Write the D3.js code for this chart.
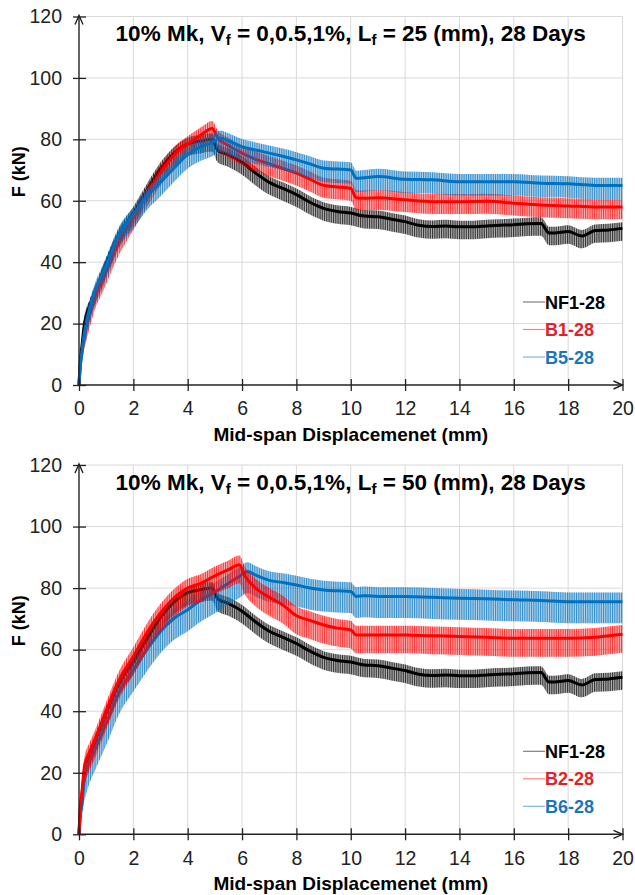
<!DOCTYPE html>
<html>
<head>
<meta charset="utf-8">
<script src="https://cdn.jsdelivr.net/npm/d3@7"></script>
<style>
  body { margin: 0; background: #fff; }
  svg { display: block; font-family: "Liberation Sans", Arial, sans-serif; }
</style>
</head>
<body>
<svg id="chart"></svg>
<script>
// ---- data (x = mid-span displacement mm, F = kN) ----
const xTicks = [0, 2, 4, 6, 8, 10, 12, 14, 16, 18, 20];
const yTicks = [0, 20, 40, 60, 80, 100, 120];

// NF1-28 (same specimen in both panels)
const nf1X = [0, 0.05, 0.1, 0.2, 0.4, 0.6, 0.8, 1.0, 1.5, 2.0, 2.5, 3.0, 3.5, 4.0, 4.5, 4.9, 5.1, 5.5, 6, 6.5, 7, 7.5, 8, 8.5, 9, 9.5, 10, 10.5, 11, 11.5, 12, 12.5, 13, 13.5, 14, 14.5, 15, 15.5, 16, 16.5, 17, 17.3, 17.5, 18, 18.5, 19, 19.5, 20];
const nf1F = [0, 8, 12, 20, 26, 30.5, 35, 39.5, 49.5, 56, 63.5, 70.5, 75.5, 78.5, 79.5, 80, 76.5, 75, 72.5, 69, 66, 64, 62, 59.5, 57.5, 56.5, 56, 55, 54.8, 54, 53.2, 52, 51.6, 51.8, 51.5, 51.5, 51.8, 52, 52.2, 52.5, 52.6, 49.5, 49.5, 50, 48.5, 50.3, 50.5, 51];

// B1-28 (Lf = 25)
const b1X = [0, 0.05, 0.1, 0.2, 0.4, 0.6, 0.8, 1.0, 1.5, 2.0, 2.5, 3.0, 3.5, 4.0, 4.5, 4.9, 5.1, 5.5, 6, 6.5, 7, 7.5, 8, 8.5, 9, 9.5, 10, 10.2, 10.5, 11, 12, 13, 14, 15, 16, 17, 18, 19, 20];
const b1F = [0, 7, 10, 16, 23, 29, 33, 37, 47, 54.5, 62, 69, 75, 78.5, 81.5, 83.5, 80.5, 78, 75.5, 73.5, 72, 70.5, 69, 67, 65, 64.5, 64, 61, 60.8, 61, 60.3, 59.7, 59.7, 59.8, 59.2, 58.6, 58.3, 58, 58];

// B5-28 (Lf = 25)
const b5X = [0, 0.05, 0.1, 0.2, 0.4, 0.6, 0.8, 1.0, 1.5, 2.0, 2.5, 3.0, 3.5, 4.0, 4.5, 4.9, 5.2, 5.5, 6, 6.5, 7, 7.5, 8, 8.5, 9, 9.5, 10, 10.2, 10.5, 11, 12, 13, 14, 15, 16, 17, 18, 19, 20];
const b5F = [0, 6, 10, 17, 25, 31, 35, 39, 49.5, 55.5, 61.5, 66, 70.7, 75, 77.6, 79, 80.4, 79.5, 77.6, 76.5, 75.5, 74.5, 73.3, 72, 70.6, 70.3, 70, 67.3, 67.5, 67.9, 67, 66.8, 66.2, 66.2, 66.2, 65.7, 65.5, 65, 65];

// B2-28 (Lf = 50)
const b2X = [0, 0.05, 0.1, 0.2, 0.4, 0.6, 0.8, 1.0, 1.5, 2.0, 2.5, 3.0, 3.5, 4.0, 4.5, 5.0, 5.5, 5.9, 6.1, 6.5, 7, 7.5, 8, 8.5, 9, 9.5, 10, 10.2, 10.5, 11, 12, 13, 14, 15, 16, 17, 18, 19, 19.5, 20];
const b2F = [0, 9, 13, 22, 27, 31, 35.5, 40, 50.5, 57.8, 65.5, 71.9, 76.7, 80, 81.6, 84, 86, 87.6, 84, 80, 77, 74.5, 71, 69.5, 68, 67, 66.4, 64.8, 64.8, 64.8, 64.8, 64.5, 64.3, 64, 63.7, 63.7, 63.7, 64, 64.5, 65];

// B6-28 (Lf = 50)
const b6X = [0, 0.05, 0.1, 0.2, 0.4, 0.6, 0.8, 1.0, 1.5, 2.0, 2.5, 3.0, 3.5, 4.0, 4.5, 5.0, 5.5, 5.9, 6.2, 6.5, 7, 7.5, 8, 8.5, 9, 9.5, 10, 10.2, 10.5, 11, 12, 13, 14, 15, 16, 17, 18, 19, 20];
const b6F = [0, 6, 9, 18, 24, 28, 32, 36, 46.5, 53.4, 60, 65.9, 70.2, 73, 76.2, 78.8, 81.6, 83.8, 85.4, 84.2, 82.5, 81.8, 81, 80, 79.4, 79.1, 78.9, 77.3, 77.5, 77.3, 77.3, 77, 76.7, 76.5, 76.2, 76, 75.6, 75.6, 75.6];

// scatter band of the noisy signal (kN above / below the dense core)
const bandUp   = { nf1: 2, b1: 2.5, b5: 2.5, b2: 3, b6: 3 };
const bandDown = { nf1: 4, b1: 4, b5: 4.5, b2: 6, b6: 7 };

const black = "#000000", red = "#ff0000", blue = "#0070c0";

const W = 635, H = 895;
const svg = d3.select("#chart").attr("width", W).attr("height", H);

const zip = (xs, fs) => xs.map((v, i) => ({ x: v, f: fs[i] }));

const panels = [
  { top: 16.5, bottom: 385, lf: "25",
    series: [
      { key: "nf1", name: "NF1-28", color: black, text: "#000", data: zip(nf1X, nf1F) },
      { key: "b1", name: "B1-28", color: red, text: "#e3202a", data: zip(b1X, b1F) },
      { key: "b5", name: "B5-28", color: blue, text: "#1b75bb", data: zip(b5X, b5F) }
    ],
    order: ["nf1", "b1", "b5"] },
  { top: 465, bottom: 834.3, lf: "50",
    series: [
      { key: "nf1", name: "NF1-28", color: black, text: "#000", data: zip(nf1X, nf1F) },
      { key: "b2", name: "B2-28", color: red, text: "#e3202a", data: zip(b2X, b2F) },
      { key: "b6", name: "B6-28", color: blue, text: "#1b75bb", data: zip(b6X, b6F) }
    ],
    order: ["nf1", "b6", "b2"] }
];

// stripe patterns to imitate the dense spiky signal
const defs = svg.append("defs");
[["black", black], ["red", red], ["blue", blue]].forEach(([id, c]) => {
  const p = defs.append("pattern")
    .attr("id", "stripe-" + id)
    .attr("patternUnits", "userSpaceOnUse")
    .attr("width", 1.8).attr("height", 10);
  p.append("rect").attr("width", 1).attr("height", 10).attr("fill", c);
});
const patternOf = c => c === black ? "url(#stripe-black)" : c === red ? "url(#stripe-red)" : "url(#stripe-blue)";

const x = d3.scaleLinear().domain([0, 20]).range([79, 622.5]);

panels.forEach(pn => {
  const y = d3.scaleLinear().domain([0, 120]).range([pn.bottom, pn.top]);
  const g = svg.append("g");

  // grid
  g.append("g").selectAll("line").data(xTicks.slice(1)).join("line")
    .attr("x1", d => x(d)).attr("x2", d => x(d))
    .attr("y1", y(0)).attr("y2", y(120))
    .attr("stroke", "#d9d9d9").attr("stroke-width", 1);
  g.append("g").selectAll("line").data(yTicks.slice(1)).join("line")
    .attr("x1", x(0)).attr("x2", x(20))
    .attr("y1", d => y(d)).attr("y2", d => y(d))
    .attr("stroke", "#d9d9d9").attr("stroke-width", 1);

  // curves
  const byKey = {};
  pn.series.forEach(s => byKey[s.key] = s);
  pn.order.forEach(k => {
    const s = byKey[k];
    const up = bandUp[k], dn = bandDown[k];
    const area = d3.area()
      .x(d => x(d.x))
      .y0(d => y(Math.max(0, d.f - (d.x < 0.2 ? dn / 3 : dn))))
      .y1(d => y(d.f + (d.x < 0.2 ? up / 2 : up)))
      .curve(d3.curveMonotoneX);
    const line = d3.line()
      .x(d => x(d.x)).y(d => y(d.f))
      .curve(d3.curveMonotoneX);
    g.append("path").datum(s.data).attr("d", area)
      .attr("fill", s.color).attr("fill-opacity", 0.22);
    g.append("path").datum(s.data).attr("d", area)
      .attr("fill", patternOf(s.color)).attr("opacity", 0.75);
    g.append("path").datum(s.data).attr("d", line)
      .attr("fill", "none").attr("stroke", s.color).attr("stroke-width", 3);
  });

  // axes
  const yAxis = g.append("g").attr("transform", `translate(${x(0)},0)`)
    .call(d3.axisLeft(y).tickValues(yTicks).tickSize(6).tickPadding(11));
  yAxis.select(".domain").remove();
  yAxis.selectAll(".tick line").attr("x1", 7).attr("stroke", "#222").attr("stroke-width", 1.3);
  yAxis.selectAll(".tick text").attr("font-size", 19.5).attr("fill", "#222")
    .attr("font-family", "Liberation Sans, Arial, sans-serif");

  const xAxis = g.append("g").attr("transform", `translate(0,${y(0)})`)
    .call(d3.axisBottom(x).tickValues(xTicks).tickSize(6).tickPadding(10.5));
  xAxis.select(".domain").remove();
  xAxis.selectAll(".tick line").attr("y1", -6).attr("stroke", "#222").attr("stroke-width", 1.3);
  xAxis.selectAll(".tick text").attr("font-size", 19.5).attr("fill", "#222")
    .attr("font-family", "Liberation Sans, Arial, sans-serif");

  // axis lines with arrow heads
  const ax = g.append("g").attr("stroke", "#222").attr("stroke-width", 1.4).attr("fill", "none");
  ax.append("line").attr("x1", x(0)).attr("x2", x(0)).attr("y1", y(0)).attr("y2", y(120) - 1);
  ax.append("path").attr("d", `M${x(0) - 4},${y(120) + 8}L${x(0)},${y(120) - 1}L${x(0) + 4},${y(120) + 8}`);
  ax.append("line").attr("x1", x(0)).attr("x2", x(20)).attr("y1", y(0)).attr("y2", y(0));
  ax.append("path").attr("d", `M${x(20) - 9},${y(0) - 4}L${x(20)},${y(0)}L${x(20) - 9},${y(0) + 4}`);

  // title
  const cx = (x(0) + x(20)) / 2;
  const t = g.append("text").attr("x", cx).attr("y", pn.top + 24.5)
    .attr("text-anchor", "middle").attr("font-weight", "bold").attr("font-size", 22.5).attr("fill", "#000");
  t.append("tspan").text("10% Mk, V");
  t.append("tspan").text("f").attr("font-size", 15).attr("dy", 4);
  t.append("tspan").text(" = 0,0.5,1%, L").attr("dy", -4);
  t.append("tspan").text("f").attr("font-size", 15).attr("dy", 4);
  t.append("tspan").text(` = ${pn.lf} (mm), 28 Days`).attr("dy", -4);

  // axis titles
  g.append("text").attr("x", cx).attr("y", y(0) + 56)
    .attr("text-anchor", "middle").attr("font-weight", "bold").attr("font-size", 19)
    .text("Mid-span Displacemenet (mm)");
  g.append("text")
    .attr("transform", `translate(25,${(pn.top + pn.bottom) / 2 - 29}) rotate(-90)`)
    .attr("text-anchor", "middle").attr("font-weight", "bold").attr("font-size", 18)
    .text("F (kN)");

  // legend
  pn.series.forEach((s, i) => {
    const ly = y(0) - 83 + i * 27.5;
    g.append("line").attr("x1", 523).attr("x2", 545).attr("y1", ly).attr("y2", ly)
      .attr("stroke", s.color).attr("stroke-opacity", 0.5).attr("stroke-width", 1.2);
    g.append("text").attr("x", 545).attr("y", ly + 6.5)
      .attr("font-weight", "bold").attr("font-size", 18).attr("fill", s.text)
      .text(s.name);
  });
});
</script>
</body>
</html>
